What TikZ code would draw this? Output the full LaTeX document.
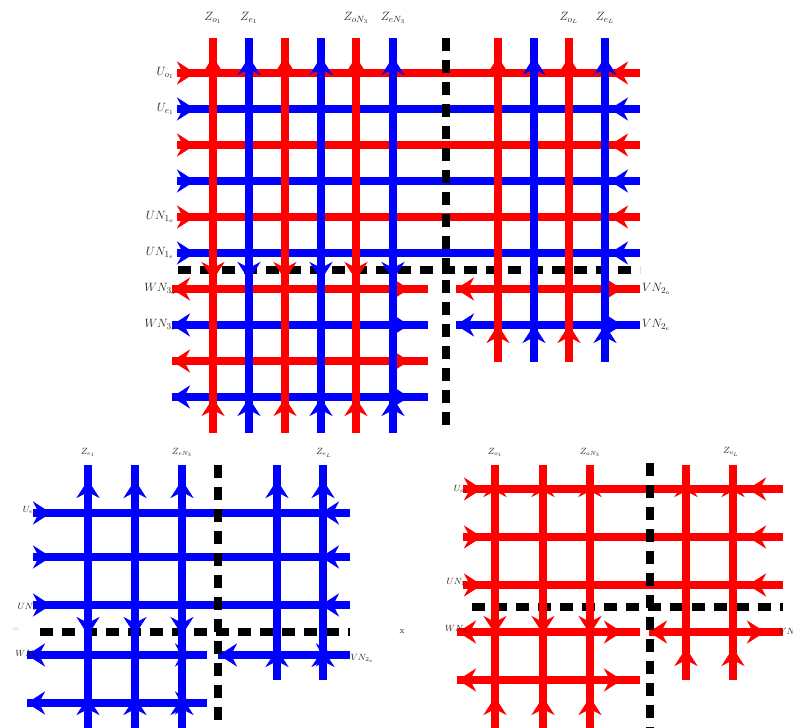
\documentclass[tikz,border=0pt]{standalone}
\usetikzlibrary{arrows.meta}
\definecolor{labc}{RGB}{45,35,15}
\definecolor{tanc}{RGB}{200,180,150}
\tikzset{
  ah/.style={-{Stealth[length=18pt,width=23pt,inset=6pt]}},
  dsh/.style={draw=black, line width=7.5pt, dash pattern=on 13pt off 9pt},
  lab/.style={text=labc, inner sep=0pt, font=\fontsize{12.5}{14}\selectfont},
  slab/.style={text=labc, inner sep=0pt, font=\fontsize{9}{10}\selectfont},
}
\begin{document}
\begin{tikzpicture}[x=1pt,y=-1pt]
\clip (0,0) rectangle (793,728);
\useasboundingbox (0,0) rectangle (793,728);
\fill[white] (0,0) rectangle (793,728);
% ================= TOP DIAGRAM =================
\def\TW{8.5pt}
\foreach \y/\col in {73/red,109/blue,145/red,181/blue,217/red,253/blue}{
  \draw[color=\col, line width=\TW] (177,\y) -- (640,\y);
  \draw[color=\col, line width=\TW, ah] (177,\y) -- (195,\y);
  \draw[color=\col, line width=\TW, ah] (628,\y) -- (610,\y);
}
\foreach \y/\col in {289/red,325/blue,361/red,397/blue}{
  \draw[color=\col, line width=\TW] (172,\y) -- (428,\y);
  \draw[color=\col, line width=\TW, ah] (195,\y) -- (172,\y);
  \draw[color=\col, line width=\TW, ah] (391,\y) -- (409,\y);
}
\foreach \y/\col in {289/red,325/blue}{
  \draw[color=\col, line width=\TW] (456,\y) -- (640,\y);
  \draw[color=\col, line width=\TW, ah] (478,\y) -- (456,\y);
  \draw[color=\col, line width=\TW, ah] (604,\y) -- (622,\y);
}
\draw[dsh] (446,38) -- (446,430);
\draw[dsh] (178,270) -- (640,270);
\foreach \x/\col in {213/red,249/blue,285/red,321/blue,356/red,393/blue}{
  \draw[color=\col, line width=\TW] (\x,38) -- (\x,433);
  \draw[color=\col, line width=\TW, ah] (\x,75) -- (\x,57);
  \draw[color=\col, line width=\TW, ah] (\x,262) -- (\x,280);
  \draw[color=\col, line width=\TW, ah] (\x,416) -- (\x,398);
}
\foreach \x/\col in {498/red,534/blue,569/red,605/blue}{
  \draw[color=\col, line width=\TW] (\x,38) -- (\x,362);
  \draw[color=\col, line width=\TW, ah] (\x,75) -- (\x,57);
  \draw[color=\col, line width=\TW, ah] (\x,343) -- (\x,325);
}
% ================= BOTTOM-LEFT (BLUE) =================
\def\BW{8pt}
\foreach \y in {513,557,605}{
  \draw[blue, line width=\BW] (33,\y) -- (350,\y);
  \draw[blue, line width=\BW, ah] (33,\y) -- (51,\y);
  \draw[blue, line width=\BW, ah] (339,\y) -- (321,\y);
}
\foreach \y in {655,703}{
  \draw[blue, line width=\BW] (27,\y) -- (207,\y);
  \draw[blue, line width=\BW, ah] (47,\y) -- (27,\y);
  \draw[blue, line width=\BW, ah] (175,\y) -- (193,\y);
}
\draw[blue, line width=\BW] (218,655) -- (350,655);
\draw[blue, line width=\BW, ah] (238,655) -- (219,655);
\draw[blue, line width=\BW, ah] (316,655) -- (334,655);
\draw[dsh] (218,465) -- (218,728);
\draw[dsh] (40,632) -- (350,632);
\foreach \x in {88,135,182}{
  \draw[blue, line width=\BW] (\x,465) -- (\x,740);
  \draw[blue, line width=\BW, ah] (\x,498) -- (\x,480);
  \draw[blue, line width=\BW, ah] (\x,617) -- (\x,635);
  \draw[blue, line width=\BW, ah] (\x,715) -- (\x,697);
}
\foreach \x in {277,323}{
  \draw[blue, line width=\BW] (\x,465) -- (\x,680);
  \draw[blue, line width=\BW, ah] (\x,498) -- (\x,480);
  \draw[blue, line width=\BW, ah] (\x,667) -- (\x,649);
}
% ================= BOTTOM-RIGHT (RED) =================
\foreach \y in {489,537,585}{
  \draw[red, line width=\BW] (463,\y) -- (783,\y);
  \draw[red, line width=\BW, ah] (463,\y) -- (482,\y);
  \draw[red, line width=\BW, ah] (767,\y) -- (748,\y);
}
\foreach \y in {632,680}{
  \draw[red, line width=\BW] (457,\y) -- (640,\y);
  \draw[red, line width=\BW, ah] (479,\y) -- (458,\y);
  \draw[red, line width=\BW, ah] (604,\y) -- (622,\y);
}
\draw[red, line width=\BW] (649,632) -- (783,632);
\draw[red, line width=\BW, ah] (670,632) -- (649,632);
\draw[red, line width=\BW, ah] (746,632) -- (765,632);
\draw[dsh] (650,463) -- (650,728);
\draw[dsh] (472,607) -- (783,607);
\foreach \x in {495,543,590}{
  \draw[red, line width=\BW] (\x,465) -- (\x,740);
  \draw[red, line width=\BW, ah] (\x,497) -- (\x,479);
  \draw[red, line width=\BW, ah] (\x,616) -- (\x,634);
  \draw[red, line width=\BW, ah] (\x,716) -- (\x,697);
}
\foreach \x in {686,733}{
  \draw[red, line width=\BW] (\x,465) -- (\x,680);
  \draw[red, line width=\BW, ah] (\x,497) -- (\x,479);
  \draw[red, line width=\BW, ah] (\x,668) -- (\x,648);
}
% ================= LABELS =================
\node[lab] (tzo1) at (213,18) {$Z_{o_1}$};
\node[lab] (tze1) at (249,18) {$Z_{e_1}$};
\node[lab] (tzon3) at (356,18) {$Z_{oN_3}$};
\node[lab] (tzen3) at (393,18) {$Z_{eN_3}$};
\node[lab] (tzoL) at (569,18) {$Z_{o_L}$};
\node[lab] (tzeL) at (605,18) {$Z_{e_L}$};
\node[lab, anchor=east] (tuo1) at (174,73) {$U_{o_1}$};
\node[lab, anchor=east] (tue1) at (174,109) {$U_{e_1}$};
\node[lab, anchor=east] (tun1o) at (174,217) {$UN_{1_o}$};
\node[lab, anchor=east] (tun1e) at (174,253) {$UN_{1_e}$};
\node[lab, anchor=east] (twn3o) at (176,289) {$WN_{3_o}$};
\node[lab, anchor=east] (twn3e) at (176,325) {$WN_{3_e}$};
\node[lab, anchor=west] (tvn2o) at (642,289) {$VN_{2_o}$};
\node[lab, anchor=west] (tvn2e) at (642,325) {$VN_{2_e}$};
% bottom-left
\node[slab] (bze1) at (88,452) {$Z_{e_1}$};
\node[slab] (bzen3) at (182,452) {$Z_{eN_3}$};
\node[slab] (bzeL) at (324,453) {$Z_{e_L}$};
\node[slab] (bue1) at (30,510) {$U_{e_1}$};
\node[slab] (bun1e) at (29,607) {$UN_{1_e}$};
\node[slab] (bwn3e) at (28,654) {$WN_{3_e}$};
\node[slab] (bvn2e) at (362,658) {$VN_{2_e}$};
\node[slab, text=tanc] (beq) at (16,630) {$=$};
\node[slab] (bx) at (402,632) {x};
% bottom-right
\node[slab] (rzo1) at (495,452) {$Z_{o_1}$};
\node[slab] (rzon3) at (590,452) {$Z_{oN_3}$};
\node[slab] (rzoL) at (731,452) {$Z_{o_L}$};
\node[slab] (ruo1) at (461,489) {$U_{o_1}$};
\node[slab] (run1o) at (458,582) {$UN_{1_o}$};
\node[slab] (rwn3o) at (458,629) {$WN_{3_o}$};
\node[slab, anchor=west] (rvn2o) at (779,632) {$VN_{2_o}$};
\end{tikzpicture}
\end{document}
